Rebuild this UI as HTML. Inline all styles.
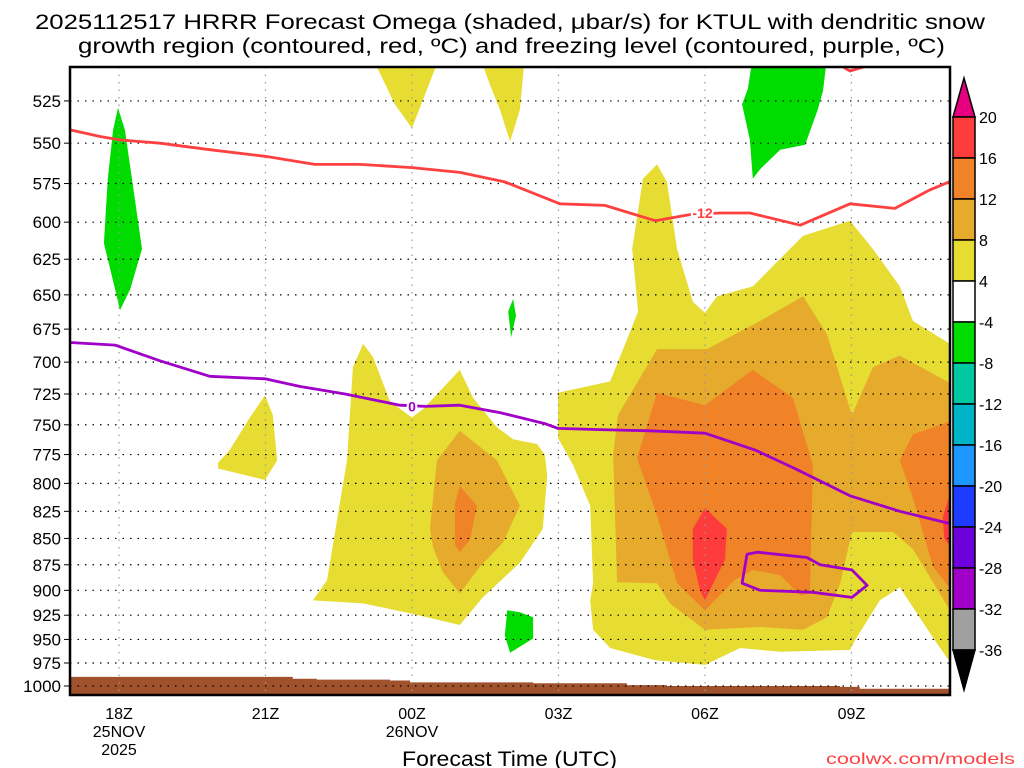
<!DOCTYPE html>
<html><head><meta charset="utf-8">
<style>
html,body{margin:0;padding:0;background:#fff;}
svg{display:block;font-family:"Liberation Sans",sans-serif;}
</style></head>
<body>
<svg id="chart" width="1024" height="768" viewBox="0 0 1024 768" xmlns="http://www.w3.org/2000/svg">
<defs><clipPath id="plotclip"><rect x="70" y="67" width="880" height="628"/></clipPath></defs>
<text x="35" y="29" textLength="950" lengthAdjust="spacingAndGlyphs" font-size="21" fill="#000">2025112517 HRRR Forecast Omega (shaded, μbar/s) for KTUL with dendritic snow</text>
<text x="78" y="53" textLength="867" lengthAdjust="spacingAndGlyphs" font-size="21" fill="#000">growth region (contoured, red, ºC) and freezing level (contoured, purple, ºC)</text>
<g id="shading" clip-path="url(#plotclip)"></g>
<g id="grid"></g>
<g id="lines" clip-path="url(#plotclip)"></g>
<g id="axes"></g>
<g id="cbar"></g>
<text x="402" y="766" textLength="215" lengthAdjust="spacingAndGlyphs" font-size="21" fill="#000">Forecast Time (UTC)</text>
<text x="826" y="764" textLength="189" lengthAdjust="spacingAndGlyphs" font-size="16" fill="#ff4040">coolwx.com/models</text>
</svg>
<script>
// ---- data ----
const yTicks = [525,550,575,600,625,650,675,700,725,750,775,800,825,850,875,900,925,950,975,1000];
const xTickHours = [18,21,24,27,30,33];
const xTickLabels = [["18Z","25NOV","2025"],["21Z"],["00Z","26NOV"],["03Z"],["06Z"],["09Z"]];
const cbarLevels = [20,16,12,8,4,-4,-8,-12,-16,-20,-24,-28,-32,-36];
const cbarColors = ["#ff3c3c","#f08228","#e6aa2d","#e6dc32","#ffffff","#00dc00","#00c8a0","#00b4c8","#1e96ff","#1e3cff","#6e00dc","#a000c8","#a0a0a0"];
const groundHours = [17.0,21.15,21.56,22.05,23.55,23.96,26.48,28.4,29.22,32.77,33.17,35.0];
const groundP = [990,990,992,993,994,996,997,999,1000,1001,1003,1003];
const shadeYellow = "#e6dc32", shadeTan = "#e6aa2d", shadeOrange = "#f08228", shadeRed = "#ff3c3c", shadeGreen = "#00dc00";
const regionY1 = [[26.99,724],[28.06,715],[28.63,662],[28.51,618],[28.73,572],[29.02,563],[29.22,574],[29.43,618],[29.75,655],[30.0,663],[30.25,651],[30.98,644],[31.74,618],[32.01,609],[32.97,599],[33.44,618],[33.99,644],[34.26,669],[35.1,688],[35.1,980],[34.71,951],[34.3,920],[33.99,897],[33.58,910],[33.07,951],[32.97,961],[31.54,963],[30.72,959],[30.0,977],[28.98,972],[28.06,959],[27.71,940],[27.65,910],[27.71,893],[27.65,820],[27.3,784],[26.99,761]];
const regionT1 = [[29.02,893],[28.2,892],[28.12,775],[28.22,742],[29.02,690],[30.04,690],[31.13,669],[32.01,651],[32.5,679],[33.01,742],[33.44,704],[33.99,695],[35.1,718],[35.1,927],[34.26,860],[33.85,844],[33.01,844],[32.77,893],[32.5,927],[32.01,940],[31.13,937],[30.0,940],[29.28,913]];
const regionO1 = [[28.61,778],[29.02,724],[30.0,734],[30.98,706],[31.8,728],[32.21,784],[32.15,903],[31.95,905],[31.54,885],[30.98,880],[30.6,890],[30.0,920],[29.43,893],[29.02,829]];
const regionO2 = [[35.1,746],[34.26,758],[33.99,780],[34.26,813],[34.67,877],[35.1,903]];
const regionR1 = [[30.0,822],[30.45,841],[30.41,870],[30.1,900],[30.0,910],[29.9,900],[29.75,870],[29.75,841]];
const regionR2 = [[35.1,799],[34.87,830],[34.9,850],[35.1,862]];
const regionY2 = [[21.97,910],[22.26,890],[22.67,780],[22.79,704],[23.0,686],[23.2,696],[23.55,731],[24.0,744],[24.23,737],[24.98,706],[25.25,728],[25.74,752],[26.07,762],[26.56,766],[26.72,775],[26.77,793],[26.68,841],[26.21,873],[25.45,907],[24.98,935],[23.96,923],[23.0,913]];
const regionT2 = [[24.37,841],[24.51,780],[24.98,755],[25.74,780],[26.21,820],[25.86,854],[25.39,877],[24.98,903],[24.63,882],[24.43,858]];
const regionO3 = [[24.98,802],[25.33,820],[25.19,851],[24.98,863],[24.88,856],[24.88,818]];
const regionY3 = [[20.03,782],[20.27,771],[20.68,744],[20.99,726],[21.15,742],[21.24,780],[20.99,797],[20.03,787]];
const regionY4 = [[23.18,500],[24.57,500],[24.27,521],[24.0,541],[23.65,527]];
const regionY5 = [[25.39,500],[26.31,500],[26.21,530],[26.01,549],[25.8,530],[25.6,516]];
const regionG1 = [[30.98,500],[32.5,500],[32.42,519],[32.31,530],[32.05,551],[31.54,554],[31.13,566],[30.98,572],[30.92,548],[30.76,527],[30.88,518]];
const regionG2 = [[17.98,529],[18.12,542],[18.33,586],[18.47,618],[18.23,646],[18.02,661],[17.92,646],[17.69,614],[17.77,572],[17.88,542]];
const regionG3 = [[25.95,920],[26.21,922],[26.48,927],[26.48,949],[26.01,964],[25.9,946]];
const regionG4 = [[25.97,662],[26.07,653],[26.13,665],[26.03,681]];
const dgzHours = [17.0,17.61,18.02,18.84,19.86,20.99,22.01,22.94,24.0,24.98,25.9,27.03,27.95,28.98,29.69,30.31,30.92,31.95,32.97,33.89,34.61,35.0];
const dgzP = [542,546,548,550,554,558,563,563,565,568,574,588,589,599,595,594,594,602,588,591,579,574];
const dgzTopHours = [32.72,32.97,33.58];
const dgzTopP = [504,508,503];
const frzHours = [17.0,17.92,18.84,19.86,20.99,21.71,22.63,23.75,24.27,24.98,25.8,26.72,26.99,27.85,28.87,30.0,31.02,31.84,32.97,33.99,35.0];
const frzP = [685,687,699,711,713,719,725,734,735,734,740,749,753,754,755,757,771,787,811,825,836];
const frzLoopHours = [30.86,31.07,32.09,32.36,33.01,33.32,33.01,32.21,31.13,30.76];
const frzLoopP = [865,863,868,875,880,895,907,902,900,893];

// ---- axes ----
const X0=70, X1=950, Y0=67, Y1=695;
function xh(h){ return 119 + (h-18)*48.83; }
function yp(p){ return 686 + 908*Math.log(p/1000); }
const NS="http://www.w3.org/2000/svg";
function mk(tag, attrs, parent){ const e=document.createElementNS(NS,tag); for(const k in attrs) e.setAttribute(k,attrs[k]); parent.appendChild(e); return e; }
const shading=document.getElementById('shading'), grid=document.getElementById('grid'), lines=document.getElementById('lines'), axes=document.getElementById('axes'), cbar=document.getElementById('cbar');

function poly(pts, color, name){
  const d = pts.map((q,i)=>(i?'L':'M')+xh(q[0]).toFixed(1)+','+yp(q[1]).toFixed(1)).join('')+'Z';
  const e = mk('path',{d:d,fill:color},shading);
  
  
}
poly(regionY1, shadeYellow, 'omega-4-8-east');
poly(regionT1, shadeTan, 'omega-8-12-east');
poly(regionO1, shadeOrange, 'omega-12-16-east');
poly(regionO2, shadeOrange, 'omega-12-16-edge');
poly(regionR1, shadeRed, 'omega-16-20-core');
poly(regionR2, shadeRed, 'omega-16-20-edge');
poly(regionY2, shadeYellow, 'omega-4-8-center');
poly(regionT2, shadeTan, 'omega-8-12-center');
poly(regionO3, shadeOrange, 'omega-12-16-center');
poly(regionY3, shadeYellow, 'omega-4-8-west');
poly(regionY4, shadeYellow, 'omega-4-8-top-a');
poly(regionY5, shadeYellow, 'omega-4-8-top-b');
poly(regionG1, shadeGreen, 'omega-neg-top-right');
poly(regionG2, shadeGreen, 'omega-neg-left');
poly(regionG3, shadeGreen, 'omega-neg-low');
poly(regionG4, shadeGreen, 'omega-neg-small');

// ground
(function(){
  let d='M'+xh(groundHours[0])+','+Y1;
  for(let i=0;i<groundHours.length;i++){
    const y=yp(groundP[i]);
    d+='L'+xh(groundHours[i]).toFixed(1)+','+y.toFixed(1);
    if(i<groundHours.length-1) d+='L'+xh(groundHours[i+1]).toFixed(1)+','+y.toFixed(1);
  }
  d+='L'+xh(groundHours[groundHours.length-1])+','+Y1+'Z';
  const g=mk('path',{d:d,fill:'#a0522d'},shading);
  
  
})();

// grid
yTicks.forEach(p=>{
  const y=yp(p);
  const l=mk('line',{x1:X0,x2:X1,y1:y,y2:y,stroke:'#000','stroke-width':1.2,'stroke-dasharray':'1.5,6'},grid);
  
  
  const t=mk('text',{x:61,y:y+6,'text-anchor':'end','font-size':17,fill:'#000'},axes);
  t.textContent=p;
  
  
  mk('line',{x1:64,x2:70,y1:y,y2:y,stroke:'#000','stroke-width':1},axes);
});
xTickHours.forEach((h,i)=>{
  const x=xh(h);
  const l=mk('line',{x1:x,x2:x,y1:Y0,y2:Y1,stroke:'#999','stroke-width':1.2,'stroke-dasharray':'1.5,6'},grid);
  
  
  xTickLabels[i].forEach((s,j)=>{
    const t=mk('text',{x:x,y:719+j*18,'text-anchor':'middle','font-size':16,fill:'#000'},axes);
    t.textContent=s;
    
    
  });
});
const frame=mk('rect',{x:X0,y:Y0,width:X1-X0,height:Y1-Y0,fill:'none',stroke:'#000','stroke-width':2.5},axes);



// contour lines
function line(hs, ps, color, name, close){
  const d = hs.map((h,i)=>(i?'L':'M')+xh(h).toFixed(1)+','+yp(ps[i]).toFixed(1)).join('')+(close?'Z':'');
  const e=mk('path',{d:d,fill:'none',stroke:color,'stroke-width':2.8,'stroke-linejoin':'round'},lines);
  
  
}
line(dgzHours, dgzP, '#ff4040', 'dgz-minus12-line', false);
line(dgzTopHours, dgzTopP, '#ff4040', 'dgz-top-line', false);
line(frzHours, frzP, '#a000c8', 'freezing-level-line', false);
line(frzLoopHours, frzLoopP, '#a000c8', 'freezing-level-loop', true);
function label(h,p,txt,color,name){
  const x=xh(h), y=yp(p);
  const t=mk('text',{x:x,y:y+5,'text-anchor':'middle','font-size':14,'font-weight':'bold',fill:color,stroke:'#fff','stroke-width':4,'paint-order':'stroke'},lines);
  t.textContent=txt;
  
  
}
label(29.95,594,'-12','#ff4040','dgz-label');
label(24.0,735,'0','#a000c8','freezing-label');

// colorbar
(function(){
  const cx=953, cw=22, top=117, step=41;
  const up=mk('path',{d:`M${cx},${top}L${cx+cw/2},78L${cx+cw},${top}Z`,fill:'#e6007f',stroke:'#000','stroke-width':1.5},cbar);
  
  
  cbarColors.forEach((c,i)=>{
    const r=mk('rect',{x:cx,y:top+i*step,width:cw,height:step,fill:c,stroke:'#000','stroke-width':1.5},cbar);
    
    
  });
  const bot=top+cbarColors.length*step;
  const dn=mk('path',{d:`M${cx},${bot}L${cx+cw/2},${bot+40}L${cx+cw},${bot}Z`,fill:'#000',stroke:'#000','stroke-width':1.5},cbar);
  
  
  cbarLevels.forEach((v,i)=>{
    const t=mk('text',{x:979,y:top+i*step+6,'font-size':16,fill:'#000'},cbar);
    t.textContent=v;
    
    
  });
})();
</script>
</body></html>
